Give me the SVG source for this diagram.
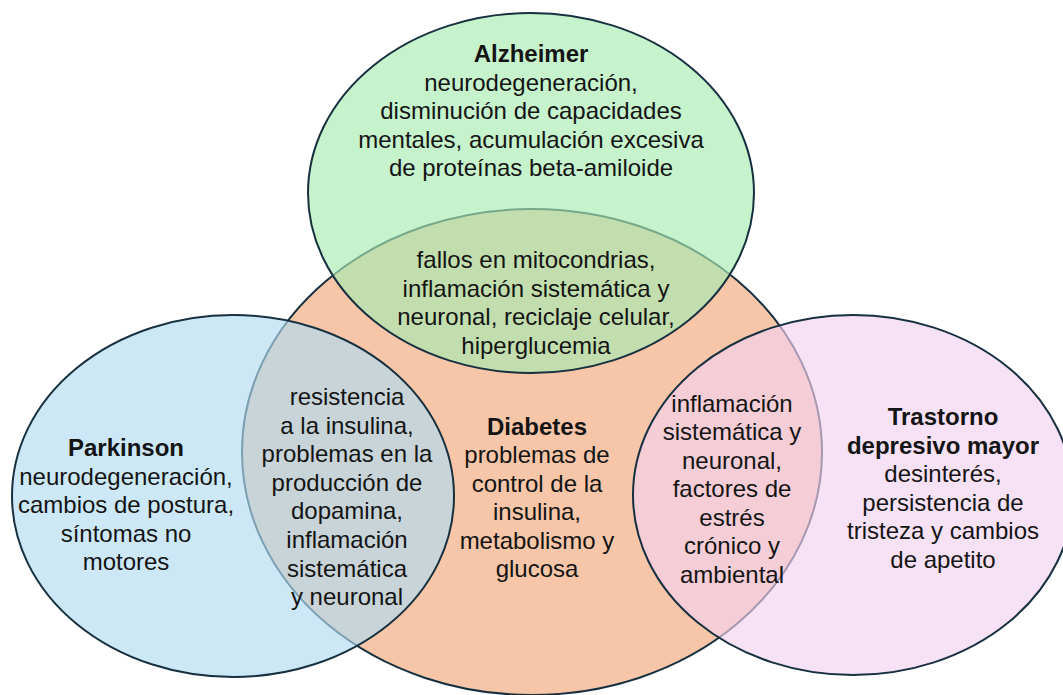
<svg xmlns="http://www.w3.org/2000/svg" width="1063" height="695" viewBox="0 0 1063 695">
<style>
.ell{stroke:#173040;stroke-width:2}
.t{font-family:"Liberation Sans",Arial,Helvetica,sans-serif;font-size:24px;fill:#141414;text-anchor:middle}
.b{font-weight:bold}
</style>
<rect width="1063" height="695" fill="#ffffff"/>
<g id="diabetes">
<ellipse class="ell" cx="532" cy="452" rx="290" ry="243" fill="#f7c6a8"/>
</g>
<g id="alzheimer">
<ellipse class="ell" cx="531" cy="193" rx="223" ry="180" fill="#a8ebb1" fill-opacity="0.65"/>
</g>
<g id="parkinson">
<ellipse class="ell" cx="233" cy="496" rx="221" ry="181" fill="#b1dcf1" fill-opacity="0.65"/>
</g>
<g id="trastorno">
<ellipse class="ell" cx="853" cy="495" rx="220" ry="180" fill="#f3d1ee" fill-opacity="0.65"/>
</g>
<g id="connectors"></g>
<g id="labels">
<text class="t" x="531"><tspan class="b" x="531" y="62">Alzheimer</tspan><tspan x="531" y="90.5">neurodegeneración,</tspan><tspan x="531" y="119">disminución de capacidades</tspan><tspan x="531" y="147.5">mentales, acumulación excesiva</tspan><tspan x="531" y="176">de proteínas beta-amiloide</tspan></text>
<text class="t" x="536"><tspan x="536" y="268">fallos en mitocondrias,</tspan><tspan x="536" y="296.5">inflamación sistemática y</tspan><tspan x="536" y="325">neuronal, reciclaje celular,</tspan><tspan x="536" y="353.5">hiperglucemia</tspan></text>
<text class="t" x="126"><tspan class="b" x="126" y="456">Parkinson</tspan><tspan x="126" y="484.5">neurodegeneración,</tspan><tspan x="126" y="513">cambios de postura,</tspan><tspan x="126" y="541.5">síntomas no</tspan><tspan x="126" y="570">motores</tspan></text>
<text class="t" x="347"><tspan x="347" y="405">resistencia</tspan><tspan x="347" y="433.6">a la insulina,</tspan><tspan x="347" y="462.2">problemas en la</tspan><tspan x="347" y="490.8">producción de</tspan><tspan x="347" y="519.4">dopamina,</tspan><tspan x="347" y="548">inflamación</tspan><tspan x="347" y="576.6">sistemática</tspan><tspan x="347" y="605.2">y neuronal</tspan></text>
<text class="t" x="537"><tspan class="b" x="537" y="434.5">Diabetes</tspan><tspan x="537" y="463">problemas de</tspan><tspan x="537" y="491.5">control de la</tspan><tspan x="537" y="520">insulina,</tspan><tspan x="537" y="548.5">metabolismo y</tspan><tspan x="537" y="577">glucosa</tspan></text>
<text class="t" x="732"><tspan x="732" y="411.5">inflamación</tspan><tspan x="732" y="440">sistemática y</tspan><tspan x="732" y="468.5">neuronal,</tspan><tspan x="732" y="497">factores de</tspan><tspan x="732" y="525.5">estrés</tspan><tspan x="732" y="554">crónico y</tspan><tspan x="732" y="582.5">ambiental</tspan></text>
<text class="t" x="943"><tspan class="b" x="943" y="425">Trastorno</tspan><tspan class="b" x="943" y="453.5">depresivo mayor</tspan><tspan x="943" y="482">desinterés,</tspan><tspan x="943" y="510.5">persistencia de</tspan><tspan x="943" y="539">tristeza y cambios</tspan><tspan x="943" y="567.5">de apetito</tspan></text>
</g>
</svg>
